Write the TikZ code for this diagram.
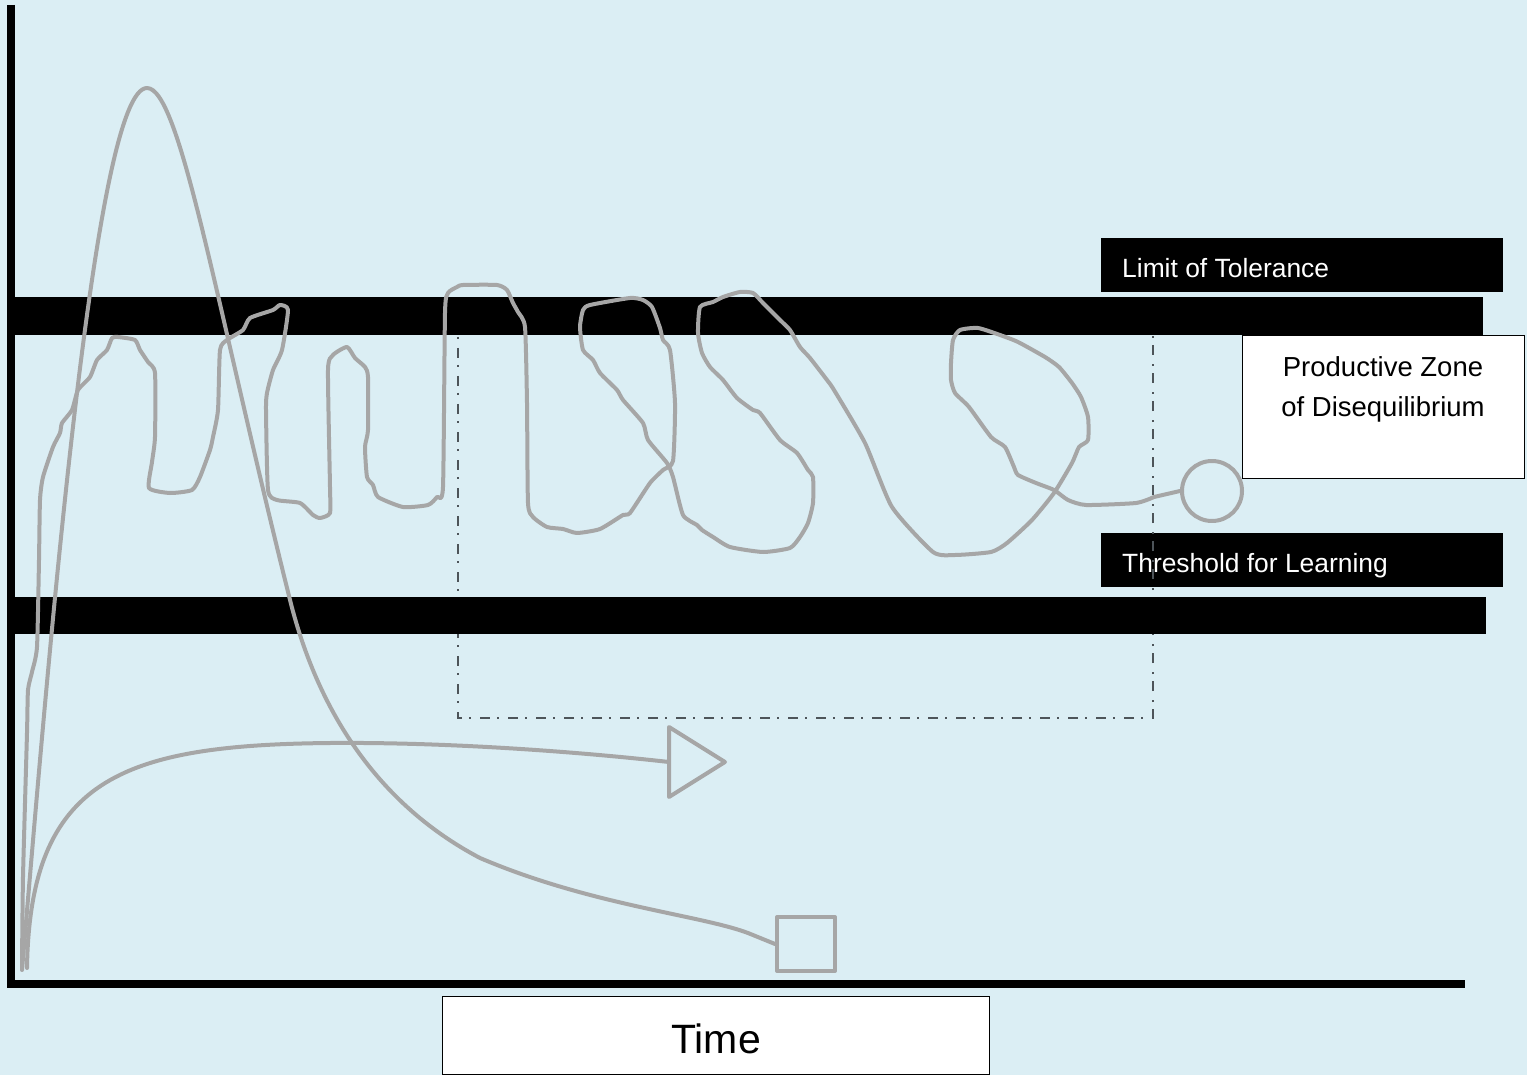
\documentclass[tikz,border=0pt]{standalone}
\usepackage{fontspec}
\setmainfont{Liberation Sans}
\definecolor{bg}{HTML}{DBEEF4}
\definecolor{curvegrey}{HTML}{A6A6A6}
\definecolor{dashgrey}{HTML}{4D5459}
\begin{document}
\begin{tikzpicture}[x=1pt,y=-1pt,
  curve/.style={draw=curvegrey, line width=4pt, line join=round, line cap=round},
  labelbox/.style={fill=black, minimum width=402pt, minimum height=54pt, inner sep=0pt},
  whitebox/.style={fill=white, draw=black, line width=1pt, inner sep=0pt},
  zone/.style={draw=dashgrey, line width=2pt, dash pattern=on 10pt off 7pt on 2pt off 9pt},
  labeltext/.style={text=white, font=\fontsize{26.4}{30}\selectfont, anchor=base west, inner sep=0pt},
  zonetext/.style={text=black, font=\fontsize{27.5}{32}\selectfont, anchor=base, inner sep=0pt},
  endmark/.style={draw=curvegrey, line width=4pt, inner sep=0pt, line join=round}
]
\useasboundingbox (0,0) rectangle (1527,1075);
\fill[bg] (0,0) rectangle (1527,1075);

% label boxes
\node[labelbox] (limitbox) at (1302,265) {};
\node[labelbox] (threshbox) at (1302,560) {};

% dash-dot zone
\draw[zone] (458,320) -- (458,718) -- (1153,718) -- (1153,320);

% bars
\fill[black] (15,297) rectangle (1483,335);
\fill[black] (15,597) rectangle (1486,634);

% axes
\draw[black, line width=8pt, line join=miter] (11,5) -- (11,984) -- (1465,984);

% end marks
\node[endmark, circle, minimum size=60pt] (circ) at (1212,491) {};
\node[endmark, rectangle, minimum width=58pt, minimum height=54pt] (sq) at (806,944) {};
\coordinate (tri) at (669,762);
\draw[endmark] (669,727) -- (725,762) -- (669,797) -- cycle;

% curve A: peak and fall to square
\draw[curve] (22,970) .. controls (50,640) and (95,88) .. (147,88)
  .. controls (180,88) and (215,300) .. (290,600)
  .. controls (315,700) and (370,800) .. (480,858)
  .. controls (590,905) and (700,915) .. (748,933) -- (sq.west);

% curve B: plateau to triangle
\draw[curve] (27,968) .. controls (30,780) and (120,745) .. (330,743)
  .. controls (450,742) and (580,752) .. (tri);

% curve C: oscillation in the productive zone
\draw[curve] plot[smooth, tension=0.35] coordinates {
 (22,968) (23,877) (27,733) (28,690) (32,672) (37,647) (39,560) (40,500)
 (43,477) (53,447) (60,433) (62,423) (72,410) (78,390) (90,377) (97,360)
 (107,350) (112,338) (118,337) (135,340) (140,350) (148,362) (155,373)
 (155,437) (152,462) (149,488) (170,493) (192,490) (200,477) (210,450)
 (213,437) (218,410) (220,350) (227,340) (243,330) (250,318) (273,310)
 (280,305) (288,310) (282,350) (273,370) (267,393) (266,410) (268,490)
 (277,500) (300,503) (313,515) (320,518) (330,513) (330,487) (328,370)
 (333,355) (347,347) (355,358) (365,367) (368,377) (368,430) (365,447)
 (367,477) (373,485) (378,497) (403,507) (428,505) (437,497) (443,487)
 (445,313) (448,293) (457,287) (463,285) (497,285) (507,290) (513,303)
 (518,312) (525,327) (527,403) (528,503) (533,517) (547,527) (563,529)
 (577,533) (600,529) (623,515) (630,513) (650,483) (663,470) (673,461)
 (675,403) (670,350) (663,340) (660,328) (652,307) (643,300) (630,298)
 (590,305) (583,310) (580,327) (583,350) (593,360) (600,373) (617,390)
 (623,400) (643,423) (648,440) (667,463) (673,477) (683,515) (697,525)
 (702,530) (713,537) (730,547) (763,552) (790,548) (800,537) (808,523)
 (813,503) (813,477) (808,470) (797,453) (780,440) (760,413) (753,410)
 (737,398) (723,380) (710,367) (702,353) (698,333) (700,307) (713,302)
 (723,297) (740,292) (753,293) (763,303) (780,320) (790,330) (800,347)
 (810,358) (827,380) (834,390) (865,443) (892,507) (933,552) (955,555)
 (991,552) (1007,543) (1032,520) (1054,493) (1072,463) (1079,447)
 (1088,440) (1088,417) (1081,397) (1072,383) (1059,367) (1045,357)
 (1018,342) (1000,335) (978,328) (960,330) (953,340) (951,363) (951,380)
 (955,393) (969,407) (991,437) (1005,447) (1014,467) (1018,475) (1036,483)
 (1054,490) (1068,500) (1086,505) (1136,503) (1154,497)} -- (circ.west);

% white boxes
\node[whitebox, minimum width=282pt, minimum height=142pt] (zonebox) at (1383,407) {};
\node[whitebox, minimum width=547pt, minimum height=78pt] (timebox) at (715.5,1035) {};

% texts
\node[labeltext] (limittext) at (1122,278) {Limit of Tolerance};
\node[labeltext] (threshtext) at (1122,572) {Threshold for Learning};
\node[zonetext] (zoneA) at (1383,377) {Productive Zone};
\node[zonetext] (zoneB) at (1383,417) {of Disequilibrium};
\node[anchor=base, inner sep=0pt, font=\fontsize{41}{46}\selectfont] (timetext) at (716,1053) {Time};
\end{tikzpicture}
\end{document}
